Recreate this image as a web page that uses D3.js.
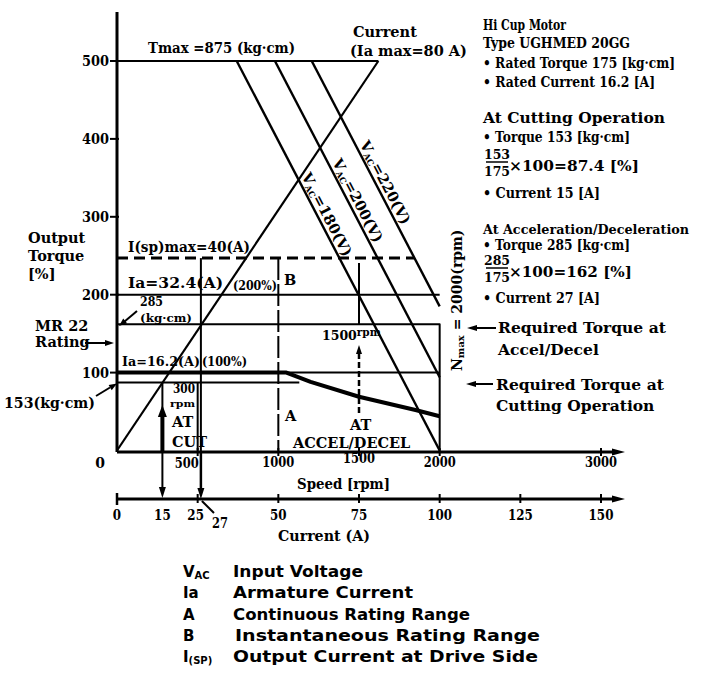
<!DOCTYPE html>
<html><head><meta charset="utf-8">
<script src="https://cdn.jsdelivr.net/npm/d3@7"></script>
<style>html,body{margin:0;padding:0;background:#fff}svg{display:block}</style>
</head><body>
<svg id="c" width="706" height="679"></svg>
<script>
// ---------------- data ----------------
const torqueTicks = [100, 200, 300, 400, 500];            // %
const speedTicks = [500, 1000, 1500, 2000, 3000];         // rpm
const speedTickLabels = ["500", "1000", "1500", "2000", "3000"];
const currentTicks = [0, 15, 25, 50, 75, 100, 125, 150];  // A
const currentTickLabels = ["0", "15", "25", "50", "75", "100", "125", "150"];
const vacVoltages = ["180", "200", "220"];                // V
const vacStartSpeed = [742, 979, 1207];                   // rpm where each V line leaves Tmax (500 %)
const vacEndSpeed = [2000, 2000, 2000];                   // rpm
const vacEndTorque = [0, 94, 185];                        // %
const currentLineAmps = [0, 81];                          // A
const currentLineTorque = [0, 500];                       // %
const tmaxTorque = 500;                                   // %
const ispMaxTorque = 247, ispMaxEndSpeed = 1843;          // % , rpm
const ia200Torque = 200;                                  // %
const accelTorque = 162;                                  // %
const ratedTorque = 100;                                  // %
const cutTorque = 87.4, cutLineEndSpeed = 1130;           // % , rpm
const ratedCurveSpeed = [0, 1050, 1200, 1500, 1850, 2000];// rpm
const ratedCurveTorque = [100, 100, 88, 69, 52, 44];      // %
const nMax = 2000;                                        // rpm
const rangeBoundary = 1000;                               // rpm (A / B)
const cutCurrent = 15, cutSpeedMark = 500;                // A , rpm
const accelCurrent = 26;                                  // A (27 A marker line)
const accelSpeed = 1500, accelArrowLow = 48;              // rpm , %

// ---------------- scales ----------------
const svg = d3.select("#c");
const x = d3.scaleLinear().domain([0, 3000]).range([117, 601]);
const xc = d3.scaleLinear().domain([0, 150]).range([117, 601]);
const y = d3.scaleLinear().domain([0, 500]).range([450.5, 61]);
const ySpeedAxis = y(0) + 1.5;
const yCurAxis = 499;
const SERIF = "'DejaVu Serif', 'Liberation Serif', serif";
const SANS = "'DejaVu Sans', 'Liberation Sans', sans-serif";

const line = d3.line().x(d => d[0]).y(d => d[1]);
function seg(pts, w, dash) {
  return svg.append("path").attr("d", line(pts)).attr("fill", "none")
    .attr("stroke", "#000").attr("stroke-width", w)
    .attr("stroke-dasharray", dash || null).attr("stroke-linejoin", "round");
}
function head(tx, ty, angDeg, len = 9, wid = 3.5) {
  const a = angDeg * Math.PI / 180, c = Math.cos(a), s = Math.sin(a);
  const bx = tx - c * len, by = ty - s * len;
  svg.append("path")
    .attr("d", `M${tx},${ty}L${bx - s * wid},${by + c * wid}L${bx + s * wid},${by - c * wid}Z`)
    .attr("fill", "#000");
}
function txt(str, px, py, o = {}) {
  const t = svg.append("text").attr("x", px).attr("y", py)
    .attr("font-family", o.sans ? SANS : SERIF)
    .attr("font-weight", o.weight || "bold")
    .attr("font-size", o.size || 14)
    .attr("text-anchor", o.anchor || "start").attr("fill", "#000");
  if (o.len) t.attr("textLength", o.len).attr("lengthAdjust", "spacingAndGlyphs");
  if (o.rot != null) t.attr("transform", `rotate(${o.rot},${px},${py})`);
  if (Array.isArray(str)) {
    str.forEach(p => {
      const sp = t.append("tspan").text(p.t);
      if (p.size) sp.attr("font-size", p.size);
      if (p.x != null) sp.attr("x", p.x);
      if (p.dy) sp.attr("dy", p.dy);
    });
  } else t.text(str);
  return t;
}

// ---------------- axes ----------------
seg([[x(0), 12], [x(0), ySpeedAxis]], 3);
torqueTicks.forEach(v => {
  seg([[x(0) - 7, y(v)], [x(0) + 2, y(v)]], 2);
  txt(String(v), x(0) - 8, y(v) + 5, { anchor: "end", size: 14.5, len: 27 });
});
seg([[x(0), ySpeedAxis], [614, ySpeedAxis]], 3);
head(625, ySpeedAxis, 0, 13, 3.5);
speedTicks.forEach((v, i) => {
  seg([[x(v), ySpeedAxis - 4], [x(v), ySpeedAxis + 4]], 2);
  const lbl = speedTickLabels[i];
  if (lbl === "500") txt(lbl, x(v) + 1, ySpeedAxis + 16, { anchor: "end", size: 14, len: 24 });
  else txt(lbl, x(v), ySpeedAxis + (lbl === "1500" ? 11 : 15), { anchor: "middle", size: 14, len: 32 });
});
txt("0", x(0) - 17, ySpeedAxis + 16, { anchor: "middle", size: 14 });
txt("Speed [rpm]", 297, 489, { size: 14.5, len: 93 });
seg([[xc(0), yCurAxis], [614, yCurAxis]], 3);
head(625, yCurAxis, 0, 13, 3.5);
seg([[xc(0), yCurAxis - 6], [xc(0), yCurAxis + 6]], 2.5);
currentTicks.forEach((v, i) => {
  if (v !== 0 && v !== cutCurrent) seg([[xc(v), yCurAxis - 5], [xc(v), yCurAxis + 4]], 2);
  const lbl = currentTickLabels[i];
  txt(lbl, xc(v) - (v === 15 ? 3 : 0) - (v === 25 ? 2 : 0), yCurAxis + 21,
      { anchor: "middle", size: 14, len: lbl.length * 8.3 });
});
txt("27", 220, yCurAxis + 29, { anchor: "middle", size: 14, len: 16 });
seg([[xc(accelCurrent) + 1, yCurAxis + 2], [214, yCurAxis + 14]], 2);
txt("Current (A)", 278, 541, { size: 14.5, len: 92 });

// ---------------- plot lines ----------------
seg([[x(0), y(tmaxTorque)], [xc(currentLineAmps[1]), y(tmaxTorque)]], 2.2);
seg([[xc(currentLineAmps[0]), y(currentLineTorque[0])], [xc(currentLineAmps[1]), y(currentLineTorque[1])]], 2.2);
const vacLabelTorque = [350, 368, 391];
vacVoltages.forEach((v, i) => {
  const p0 = [x(vacStartSpeed[i]), y(500)], p1 = [x(vacEndSpeed[i]), y(vacEndTorque[i])];
  seg([p0, p1], 2.4);
  const ang = Math.atan2(p1[1] - p0[1], p1[0] - p0[0]);
  const f = (500 - vacLabelTorque[i]) / (500 - vacEndTorque[i]);
  const px = p0[0] + (p1[0] - p0[0]) * f, py = p0[1] + (p1[1] - p0[1]) * f;
  txt([{ t: "V" }, { t: "AC", size: 8.5, dy: 2 }, { t: "=" + v + "(V)", dy: -2 }],
      px + Math.sin(ang) * 4, py - Math.cos(ang) * 4, { size: 14.5, rot: ang * 180 / Math.PI });
});
seg([[x(0), y(ispMaxTorque)], [x(ispMaxEndSpeed), y(ispMaxTorque)]], 3, "11,6");
seg([[x(0), y(ia200Torque)], [x(nMax), y(ia200Torque)]], 2);
seg([[x(0), y(accelTorque)], [x(nMax), y(accelTorque)], [x(nMax), y(0)]], 2);
seg([[x(0), y(ratedTorque)], [x(nMax), y(ratedTorque)]], 2);
seg([[x(0), y(cutTorque)], [x(cutLineEndSpeed), y(cutTorque)]], 2);
seg(ratedCurveSpeed.map((s, i) => [x(s), y(ratedCurveTorque[i])]), 4);

seg([[x(rangeBoundary), y(ispMaxTorque)], [x(rangeBoundary), y(0)]], 2, "22,4");
seg([[xc(accelCurrent), y(ispMaxTorque)], [xc(accelCurrent), ySpeedAxis]], 2);
seg([[xc(accelCurrent), ySpeedAxis], [xc(accelCurrent), yCurAxis - 8]], 2.5);
head(xc(accelCurrent), yCurAxis, 90, 11, 3.5);
seg([[x(cutSpeedMark), y(cutTorque)], [x(cutSpeedMark), y(0)]], 2);
const xCut = xc(cutCurrent) - 3;
seg([[xCut, y(cutTorque)], [xCut, 412]], 2);
head(xCut, 405, -90, 12, 4.5);
seg([[xCut, 415], [xCut, ySpeedAxis]], 4);
seg([[xCut, ySpeedAxis], [xCut, yCurAxis - 8]], 2);
head(xCut, yCurAxis - 1, 90, 11, 3.5);
seg([[x(accelSpeed), y(ispMaxTorque) + 5], [x(accelSpeed), y(accelTorque)]], 2);
seg([[x(accelSpeed), y(accelArrowLow)], [x(accelSpeed), 352]], 2.5, "6,3");
head(x(accelSpeed), 345, -90, 9, 3);

// ---------------- plot annotations ----------------
txt("Tmax =875 (kg·cm)", 148, 53, { size: 14.5, len: 147 });
txt([{ t: "Current" }, { t: "(Ia max=80 A)", x: 350, dy: 19 }], 353, 37, { size: 14.5 });
txt("I(sp)max=40(A)", 128, 252, { size: 14.5, len: 122 });
txt("Ia=32.4(A)", 128, 288, { size: 14.5, len: 95 });
txt("(200%)", 233, 290, { size: 12, len: 44 });
txt("B", 284, 285, { size: 14.5 });
txt("285", 140, 305.5, { size: 12.5, len: 23 });
txt("(kg·cm)", 140, 321.5, { size: 11, len: 52 });
txt("Ia=16.2(A)", 122, 366, { size: 13, len: 78 });
txt("(100%)", 202, 366, { size: 12, len: 45 });
txt("300", 173, 392.5, { size: 12, len: 22 });
txt("rpm", 170, 406.5, { size: 10, len: 25 });
txt([{ t: "AT" }, { t: "CUT", x: 172, dy: 20 }], 172, 427, { size: 14.5 });
txt("A", 285, 421, { size: 14.5 });
txt([{ t: "AT", x: 350 }, { t: "ACCEL/DECEL", x: 293, dy: 18 }], 350, 430, { size: 14.5 });
txt([{ t: "1500" }, { t: "rpm", size: 10.5, dy: -4 }], 322, 340, { size: 12.5 });
txt([{ t: "N" }, { t: "max", size: 10, dy: 2 }, { t: " = 2000(rpm)", dy: -2 }], 462, 371, { size: 14, rot: -90 });

txt([{ t: "Output" }, { t: "Torque", x: 28, dy: 18 }, { t: "[%]", x: 28, dy: 18 }], 28, 243, { size: 14.5 });
txt([{ t: "MR 22", x: 35 }, { t: "Rating", x: 35, dy: 16 }], 35, 331, { size: 14.5 });
seg([[85, 343], [106, 343]], 2); head(114, 343, 0, 9, 3);
txt("153(kg·cm)", 4, 408, { size: 14.5, len: 91 });
seg([[96, 396], [110, 387.5]], 2); head(117, 383.5, -31, 8, 3);
seg([[137, 311], [124, 322]], 2); head(119, 326, 140, 8, 3);

// right text block
const RX = 483;
txt("Hi Cup Motor", RX, 30, { size: 14, len: 83 });
txt("Type UGHMED 20GG", RX, 48, { size: 14, len: 147 });
txt("• Rated Torque  175 [kg·cm]", RX, 68, { size: 14, len: 192 });
txt("• Rated Current  16.2 [A]", RX, 87, { size: 14, len: 172 });
txt("At Cutting Operation", RX, 123, { size: 14, len: 182 });
txt("• Torque  153 [kg·cm]", RX, 142, { size: 14, len: 147 });
txt([{ t: "153" }, { t: "175", x: 497, dy: 17 }], 497, 159, { size: 12.5, anchor: "middle" });
seg([[486, 162], [508, 162]], 1.5);
txt("×100=87.4 [%]", 509, 171, { size: 14, len: 130 });
txt("• Current  15 [A]", RX, 198, { size: 14, len: 117 });
txt("At Acceleration/Deceleration", RX, 234, { size: 13, len: 206 });
txt("• Torque  285 [kg·cm]", RX, 250, { size: 14, len: 147 });
txt([{ t: "285" }, { t: "175", x: 497, dy: 17 }], 497, 265, { size: 12.5, anchor: "middle" });
seg([[486, 268], [508, 268]], 1.5);
txt("×100=162 [%]", 509, 277, { size: 14, len: 123 });
txt("• Current  27 [A]", RX, 303, { size: 14, len: 117 });
seg([[476, 328], [496, 328]], 2); head(467, 328, 180, 10, 3);
txt([{ t: "Required Torque at" }, { t: "Accel/Decel", x: 498, dy: 22 }], 498, 333, { size: 15.5 });
seg([[475, 384], [493, 384]], 2); head(466, 384, 180, 10, 3);
txt([{ t: "Required Torque at" }, { t: "Cutting Operation", x: 496, dy: 21 }], 496, 390, { size: 15.5 });

// legend
const LX = 183, DX = 233;
txt([{ t: "V" }, { t: "AC", size: 10, dy: 2 }], LX, 577, { sans: true, size: 15 });
txt("Input Voltage", DX, 577, { sans: true, size: 15, len: 130 });
txt("Ia", LX, 598, { sans: true, size: 15 });
txt("Armature Current", DX, 598, { sans: true, size: 15, len: 180 });
txt("A", LX, 620, { sans: true, size: 15 });
txt("Continuous Rating Range", DX, 620, { sans: true, size: 15, len: 237 });
txt("B", LX, 641, { sans: true, size: 15 });
txt("Instantaneous Rating Range", DX + 2, 641, { sans: true, size: 15, len: 305 });
txt([{ t: "I" }, { t: "(SP)", size: 10, dy: 2 }], LX, 662, { sans: true, size: 15 });
txt("Output Current at Drive Side", DX, 662, { sans: true, size: 15, len: 305 });
</script>
</body></html>
